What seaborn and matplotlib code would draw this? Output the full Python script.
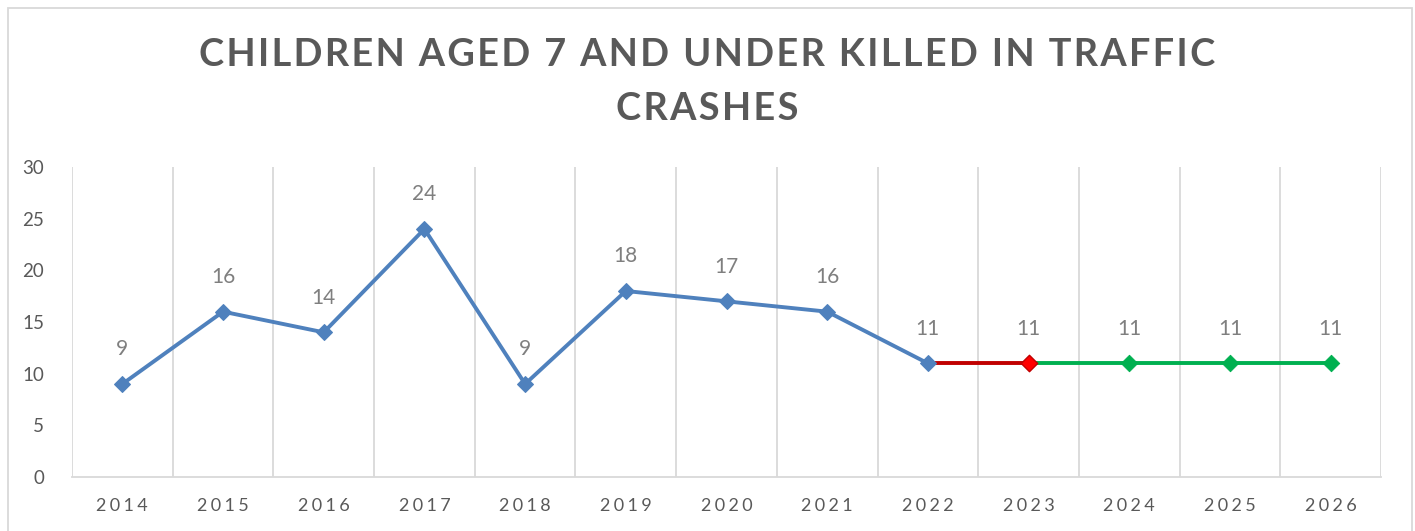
import pandas as pd
import matplotlib.pyplot as plt
import matplotlib.patches as mpatches
import seaborn as sns

# data
years = [2014, 2015, 2016, 2017, 2018, 2019, 2020, 2021, 2022, 2023, 2024, 2025, 2026]
deaths = [9, 16, 14, 24, 9, 18, 17, 16, 11, 11, 11, 11, 11]
actual_years = [2014, 2015, 2016, 2017, 2018, 2019, 2020, 2021, 2022]
actual_deaths = [9, 16, 14, 24, 9, 18, 17, 16, 11]
current_years = [2022, 2023]
current_deaths = [11, 11]
target_years = [2023, 2024, 2025, 2026]
target_deaths = [11, 11, 11, 11]

title = "CHILDREN AGED 7 AND UNDER KILLED IN TRAFFIC\nCRASHES"

BLUE = "#4F81BD"
RED_LINE = "#C00000"
RED_MARK = "#FF0000"
GREEN = "#00B050"
GRID = "#D9D9D9"
TXT = "#595959"
LBL = "#7F7F7F"

sns.set_theme(style="white")
plt.rcParams['font.family'] = ['Lato', 'DejaVu Sans']


def spaced(s, sp="\u200a"):
    # fake letter spacing like the Excel chart
    return "\n".join(sp.join(line) for line in s.split("\n"))


actual = pd.DataFrame({"year": actual_years, "deaths": actual_deaths})
current = pd.DataFrame({"year": current_years, "deaths": current_deaths})
target = pd.DataFrame({"year": target_years, "deaths": target_deaths})

fig = plt.figure(figsize=(14.15, 5.31), dpi=100)
ax = fig.add_axes([72 / 1415, 1 - 477 / 531, (1381 - 72) / 1415, (477 - 167) / 531])

sns.lineplot(data=current, x="year", y="deaths", color=RED_LINE, lw=2.8, ax=ax)
sns.lineplot(data=target, x="year", y="deaths", color=GREEN, lw=2.8, ax=ax)
sns.lineplot(data=actual, x="year", y="deaths", color=BLUE, lw=2.8,
             marker="D", markersize=8, markeredgecolor=BLUE, ax=ax)
sns.scatterplot(x=target_years[1:], y=target_deaths[1:], marker="D", s=70,
                color=GREEN, edgecolor=GREEN, zorder=5, ax=ax)
sns.scatterplot(x=[target_years[0]], y=[target_deaths[0]], marker="D", s=70,
                color=RED_MARK, edgecolor=RED_LINE, linewidth=1, zorder=6, ax=ax)

for x, y in zip(years, deaths):
    ax.annotate(str(y), (x, y), xytext=(0, 25), textcoords="offset points",
                ha="center", va="center", fontsize=15, color=LBL)

ax.set_xlim(2013.5, 2026.5)
ax.set_ylim(0, 30)
ax.set_xticks(years)
ax.set_xticklabels([spaced(str(y), "\u2009\u200a") for y in years])
ax.set_xticks([y - 0.5 for y in years] + [2026.5], minor=True)
ax.set_yticks(range(0, 31, 5))
ax.grid(False)
ax.grid(which="minor", axis="x", color=GRID, lw=1.3)
ax.tick_params(axis="x", which="both", length=0, pad=15, labelsize=13, labelcolor=TXT)
ax.tick_params(axis="y", length=0, pad=20, labelsize=13.5, labelcolor=TXT)
ax.set_xlabel("")
ax.set_ylabel("")
for side in ["left", "right", "top"]:
    ax.spines[side].set_visible(False)
ax.spines["bottom"].set_color(GRID)
ax.spines["bottom"].set_linewidth(1.3)

fig.text(0.5, 1 - 82 / 531, spaced(title), ha="center", va="center",
         fontsize=27.3, fontweight="bold", color=TXT, linespacing=1.68)

frame = mpatches.Rectangle((8 / 1415, -0.1), (1412 - 8) / 1415, 1.1 - 8 / 531,
                           transform=fig.transFigure, fill=False,
                           edgecolor=GRID, lw=1.3)
fig.patches.append(frame)

fig.savefig("out.png", dpi=100)
